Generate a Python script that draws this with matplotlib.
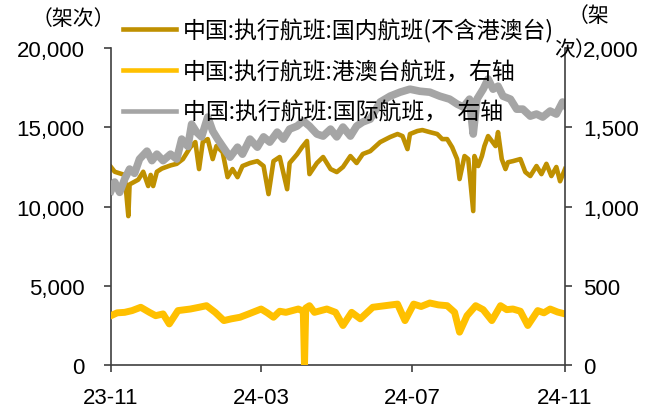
import numpy as np
import pandas as pd
import matplotlib.pyplot as plt
import matplotlib.dates as mdates
from matplotlib.ticker import FuncFormatter

plt.rcParams['font.family'] = ['Liberation Sans', 'DejaVu Sans']
cjk = ['Noto Sans CJK SC', 'DejaVu Sans']

start = pd.Timestamp('2023-11-01')

# domestic flights (left axis)
dom_day = [0, 3, 7, 11, 14, 15, 22, 26, 30, 32, 34, 37, 41, 48, 53, 58, 64, 68, 71, 74,
           78, 82, 85, 90, 94, 98, 102, 106, 112, 118, 123, 127, 131, 136, 142, 144, 150,
           154, 158, 160, 166, 171, 177, 182, 187, 193, 198, 203, 209, 217, 225, 231, 235,
           239, 241, 247, 251, 257, 263, 267, 271, 275, 279, 281, 285, 288, 292, 293, 296,
           299, 301, 304, 307, 310, 312, 315, 318, 320, 324, 330, 334, 338, 343, 347, 351,
           355, 359, 362, 366]
dom_val = [12500, 12200, 12100, 12000, 9400, 11400, 11700, 12200, 11300, 12000, 11300, 12200,
           12400, 12600, 12700, 13000, 13750, 14070, 12370, 14070, 14260, 13000, 13820, 13440,
           11860, 12370, 11860, 12560, 12750, 12870, 12560, 10790, 12870, 13130, 11100, 12750,
           13300, 13750, 14140, 12050, 12750, 13130, 12370, 12180, 12500, 13190, 12750, 13320,
           13500, 14070, 14390, 14580, 14450, 13630, 14580, 14770, 14830, 14700, 14580, 14260,
           14260, 13750, 13000, 11740, 13190, 13000, 9720, 13190, 12560, 13190, 13820, 14450,
           14140, 13820, 14700, 13000, 12370, 12800, 12870, 13000, 12180, 11930, 12560, 12050,
           12700, 11930, 12500, 11600, 12370]

# HK/Macau/Taiwan flights (right axis)
hmt_day = [0, 5, 11, 17, 24, 31, 36, 42, 47, 54, 64, 71, 77, 84, 91, 97, 104, 111, 121, 126,
           131, 136, 141, 151, 155, 156, 157, 160, 164, 174, 181, 187, 194, 201, 211, 221, 231,
           237, 244, 250, 257, 264, 271, 277, 281, 287, 294, 300, 307, 314, 319, 324, 330, 336,
           344, 349, 354, 360, 366]
hmt_val = [312, 330, 333, 344, 365, 333, 312, 323, 260, 344, 354, 365, 375, 333, 281, 292,
           302, 323, 354, 330, 302, 340, 333, 354, 340, 0, 360, 375, 333, 354, 333, 250, 333,
           292, 365, 375, 385, 281, 385, 370, 392, 380, 375, 333, 208, 312, 375, 350, 281, 375,
           350, 354, 340, 250, 344, 330, 354, 335, 323]

# international flights (right axis)
intl_day = [0, 3, 7, 11, 15, 19, 23, 29, 33, 37, 42, 48, 53, 57, 62, 65, 69, 73, 78, 82, 86,
            90, 96, 102, 106, 112, 118, 123, 128, 134, 139, 144, 150, 155, 160, 166, 171, 177,
            182, 187, 193, 198, 203, 209, 217, 225, 233, 241, 249, 257, 265, 273, 279, 284,
            289, 292, 295, 300, 304, 308, 312, 316, 322, 327, 332, 338, 343, 348, 354, 359,
            364, 366]
intl_val = [1100, 1155, 1090, 1173, 1237, 1210, 1300, 1350, 1290, 1331, 1290, 1331, 1300, 1426,
            1380, 1520, 1470, 1440, 1565, 1477, 1426, 1380, 1312, 1375, 1331, 1426, 1375, 1440,
            1407, 1470, 1426, 1489, 1508, 1540, 1508, 1458, 1445, 1489, 1440, 1502, 1445, 1508,
            1534, 1552, 1660, 1697, 1722, 1741, 1728, 1722, 1697, 1678, 1647, 1628, 1678, 1458,
            1678, 1741, 1805, 1741, 1760, 1697, 1678, 1615, 1615, 1571, 1584, 1565, 1603, 1584,
            1660, 1640]

labels = ['中国:执行航班:国内航班(不含港澳台)', '中国:执行航班:港澳台航班，右轴',
          '中国:执行航班:国际航班，  右轴']
tick_dates = ['2023-11-01', '2024-03-01', '2024-07-01', '2024-11-01']


def to_dates(days):
    return start + pd.to_timedelta(days, unit='D')


fig = plt.figure(figsize=(6.49, 4.10), dpi=100)
ax = fig.add_axes([0.171, 0.107, 0.6996, 0.7732])
ax2 = ax.twinx()

l1, = ax.plot(to_dates(dom_day), dom_val, color='#BF9000', lw=3.3, solid_joinstyle='round')
l2, = ax2.plot(to_dates(hmt_day), hmt_val, color='#FFC000', lw=5.0, solid_joinstyle='round')
l3, = ax2.plot(to_dates(intl_day), intl_val, color='#A5A5A5', lw=5.5, solid_joinstyle='round')

ax.set_xlim(pd.Timestamp('2023-11-01'), pd.Timestamp('2024-11-01'))
ax.set_ylim(0, 20000)
ax2.set_ylim(0, 2000)
ax.set_yticks(np.arange(0, 20001, 5000))
ax2.set_yticks(np.arange(0, 2001, 500))
ax.yaxis.set_major_formatter(FuncFormatter(lambda v, p: f'{int(v):,}'))
ax2.yaxis.set_major_formatter(FuncFormatter(lambda v, p: f'{int(v):,}'))
ax.set_xticks(pd.to_datetime(tick_dates))
ax.xaxis.set_major_formatter(mdates.DateFormatter('%y-%m'))

spc = '#404040'
for a in (ax, ax2):
    for s in a.spines.values():
        s.set_color(spc)
        s.set_linewidth(1.2)
    a.spines['top'].set_visible(False)
ax.spines['right'].set_visible(False)
ax2.spines['left'].set_visible(False)
ax2.spines['bottom'].set_visible(False)

ax.tick_params(axis='y', direction='out', length=5, width=1.2, color=spc, labelsize=16, pad=14)
ax.tick_params(axis='x', direction='out', length=5, width=1.2, color=spc, labelsize=16, pad=11)
ax2.tick_params(axis='y', direction='out', length=5, width=1.2, color=spc, labelsize=16, pad=8)

fig.text(73 / 649, 1 - 19 / 410, '（架次）', family=cjk, fontsize=15, ha='center', va='center')
fig.text(588 / 649, 1 - 16 / 410, '（架', family=cjk, fontsize=15, ha='center', va='center')
fig.text(575 / 649, 1 - 50 / 410, '次）', family=cjk, fontsize=15, ha='center', va='center')

leg = fig.legend([l1, l2, l3], labels, loc='upper left', bbox_to_anchor=(123 / 649, 1 - 19 / 410),
                 frameon=False, prop={'family': cjk, 'size': 16.5}, handlelength=2.3,
                 handletextpad=0.3, labelspacing=0.78, borderpad=0, borderaxespad=0)
for h in leg.legend_handles:
    h.set_linewidth(3.3)
leg.set_zorder(10)

fig.savefig('out.png', dpi=100)
